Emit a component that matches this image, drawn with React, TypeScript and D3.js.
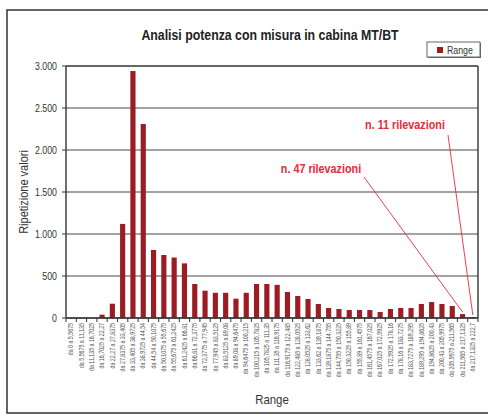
import React from "react";
import * as d3 from "d3";

const categories: string[] = [
  "da 0 a 5,5675", "da 5,5675 a 11,135", "da 11,135 a 16,7025", "da 16,7025 a 22,27",
  "da 22,27 a 27,8375", "da 27,8375 a 33,405", "da 33,405 a 38,9725", "da 38,9725 a 44,54",
  "da 44,54 a 50,1075", "da 50,1075 a 55,675", "da 55,675 a 61,2425", "da 61,2425 a 66,81",
  "da 66,81 a 72,3775", "da 72,3775 a 77,945", "da 77,945 a 83,5125", "da 83,5125 a 89,08",
  "da 89,08 a 94,6475", "da 94,6475 a 100,215", "da 100,215 a 105,7825", "da 105,7825 a 111,35",
  "da 111,35 a 116,9175", "da 116,9175 a 122,485", "da 122,485 a 128,0525", "da 128,0525 a 133,62",
  "da 133,62 a 139,1875", "da 139,1875 a 144,755", "da 144,755 a 150,3225", "da 150,3225 a 155,89",
  "da 155,89 a 161,4575", "da 161,4575 a 167,025", "da 167,025 a 172,5925", "da 172,5925 a 178,16",
  "da 178,16 a 183,7275", "da 183,7275 a 189,295", "da 189,295 a 194,8625", "da 194,8625 a 200,43",
  "da 200,43 a 205,9975", "da 205,9975 a 211,565", "da 211,565 a 217,1325", "da 217,1325 a 222,7",
];

const values: number[] = [
  0, 0, 0, 40, 170, 1120, 2940, 2310, 810, 750,
  720, 650, 405, 325, 300, 300, 230, 300, 405, 405,
  395, 310, 262, 226, 167, 119, 107, 95, 95, 95,
  71, 107, 119, 119, 167, 190, 167, 143, 47, 11,
];

const yTicks: number[] = [0, 500, 1000, 1500, 2000, 2500, 3000];
const yTickLabels: string[] = ["0", "500", "1.000", "1.500", "2.000", "2.500", "3.000"];

const annotations = [
  { text: "n. 47 rilevazioni", index: 38, tx: 321, ty: 173, lx: 364, ly: 177 },
  { text: "n. 11 rilevazioni", index: 39, tx: 405, ty: 129, lx: 448, ly: 135 },
];

const W = 488;
const H = 416;
const left = 66, right = 478, top = 66, bottom = 318;
const BAR = "#9b1c22";
const RED = "#ec2a35";
const FONT = "'Liberation Sans', Arial, sans-serif";

export default function App() {
  const x = d3.scaleBand<string>().domain(categories).range([left, right]).paddingInner(0.5).paddingOuter(0.25);
  const xb = d3.scaleBand<string>().domain(categories).range([left, right]);
  const y = d3.scaleLinear().domain([0, 3000]).range([bottom, top]);

  return (
    <svg width={W} height={H} style={{ position: "absolute", left: 0, top: 0, background: "#fff" }}>
      {/* outer frame */}
      <rect x={7} y={10} width={490} height={403} fill="#fff" stroke="#333" strokeWidth={1.5} />
      {/* title */}
      <text transform="translate(270,40) scale(0.85,1)" textAnchor="middle" fontFamily={FONT} fontWeight="bold" fontSize={14.5} fill="#222">
        Analisi potenza con misura in cabina MT/BT
      </text>
      {/* legend */}
      <rect x={428} y={43} width={53} height={15} fill="#666" />
      <rect x={427} y={42} width={53} height={15} fill="#fff" stroke="#666" strokeWidth={1} />
      <rect x={437} y={47} width={6} height={6} fill={BAR} />
      <text transform="translate(447,53.5) scale(0.88,1)" fontFamily={FONT} fontSize={10} fill="#333">Range</text>

      {/* gridlines */}
      {yTicks.map((t) => (
        <line key={"g" + t} x1={left} x2={right} y1={y(t)} y2={y(t)} stroke={t === 3000 ? "#333" : "#858585"} strokeWidth={1.4} />
      ))}
      {/* right border */}
      <line x1={right} x2={right} y1={top} y2={bottom} stroke="#333" strokeWidth={1.4} />

      {/* bars */}
      {categories.map((c, i) => (
        <rect key={c} x={x(c)} y={y(values[i])} width={x.bandwidth()} height={bottom - y(values[i])} fill={BAR} />
      ))}

      {/* y axis */}
      <line x1={left} x2={left} y1={top} y2={bottom} stroke="#333" strokeWidth={1.4} />
      {yTicks.map((t, i) => (
        <g key={"yt" + t}>
          <line x1={left - 4} x2={left} y1={y(t)} y2={y(t)} stroke="#333" strokeWidth={1} />
          <text transform={`translate(57,${y(t) + 3.5}) scale(0.88,1)`} textAnchor="end" fontFamily={FONT} fontSize={10} fill="#333">
            {yTickLabels[i]}
          </text>
        </g>
      ))}
      <text transform={`translate(28,192) rotate(-90) scale(0.88,1)`} textAnchor="middle" fontFamily={FONT} fontSize={12.5} fill="#333">
        Ripetizione valori
      </text>

      {/* x axis */}
      <line x1={left} x2={right} y1={bottom} y2={bottom} stroke="#333" strokeWidth={1.4} />
      {categories.map((c) => (
        <line key={"xt" + c} x1={xb(c)} x2={xb(c)} y1={bottom} y2={bottom + 4} stroke="#333" strokeWidth={1} />
      ))}
      <line x1={right} x2={right} y1={bottom} y2={bottom + 4} stroke="#333" strokeWidth={1} />
      {categories.map((c) => {
        const cx = (xb(c) as number) + xb.bandwidth() / 2;
        return (
          <text key={"xl" + c} transform={`translate(${cx + 2.2},323) rotate(-90) scale(0.8,1)`} textAnchor="end" fontFamily={FONT} fontSize={6.6} fill="#555">
            {c}
          </text>
        );
      })}
      <text transform="translate(272,404) scale(0.88,1)" textAnchor="middle" fontFamily={FONT} fontSize={13} fill="#333">Range</text>

      {/* annotations */}
      {annotations.map((a) => {
        const c = categories[a.index];
        const bx = (x(c) as number) + x.bandwidth() / 2;
        const by = y(values[a.index]) - 2;
        return (
          <g key={a.text}>
            <line x1={a.lx} y1={a.ly} x2={bx} y2={by} stroke={RED} strokeWidth={0.9} />
            <text transform={`translate(${a.tx},${a.ty}) scale(0.9,1)`} textAnchor="middle" fontFamily={FONT} fontWeight="bold" fontSize={12} fill={RED}>
              {a.text}
            </text>
          </g>
        );
      })}
    </svg>
  );
}
